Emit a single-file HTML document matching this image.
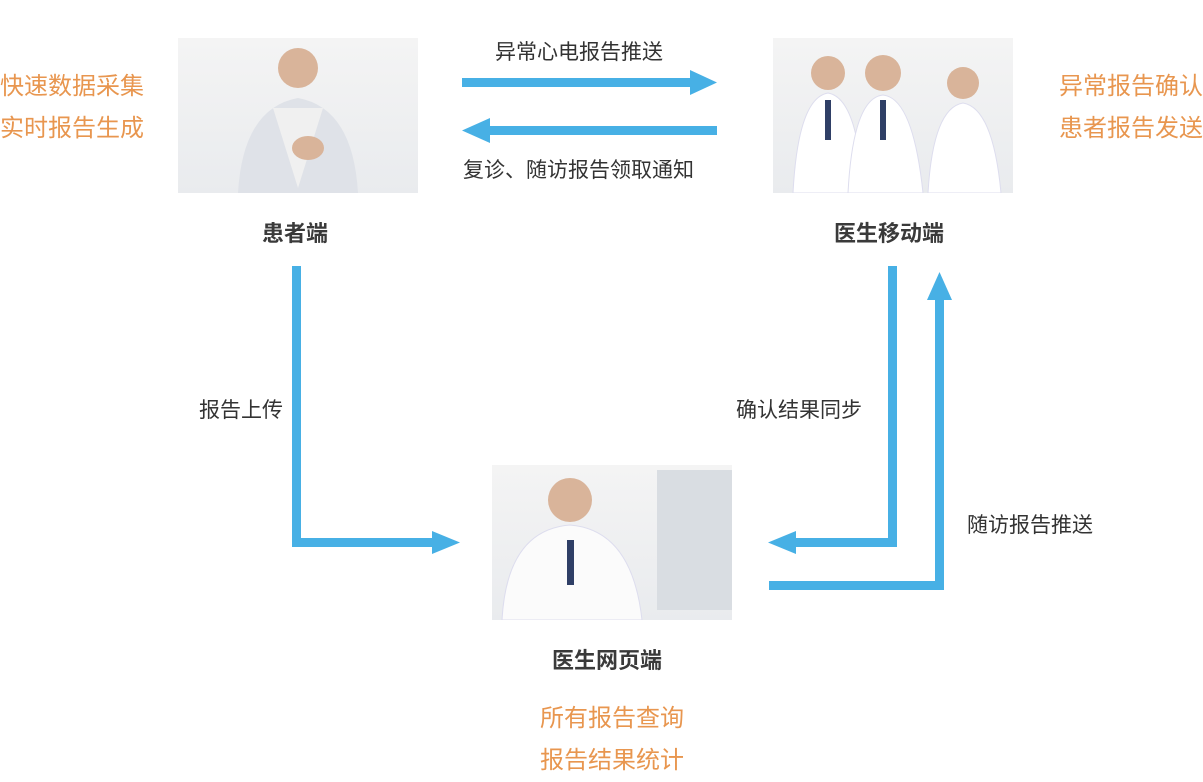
<!DOCTYPE html>
<html><head><meta charset="utf-8"><style>
body{margin:0;width:1203px;height:771px;background:#fff;position:relative;overflow:hidden;font-family:"Liberation Sans","Noto Sans CJK SC",sans-serif}
.t{position:absolute;white-space:nowrap;color:#333}
.o{color:#e8964f;font-size:24px;line-height:42px}
.n{font-size:22px;font-weight:bold;color:#3a3a3a}
.img{position:absolute;width:240px;height:155px;background:linear-gradient(#f4f4f4,#e9ebee)}
</style></head><body>
<div class="img" style="left:178px;top:38px">
<svg width="240" height="155"><circle cx="120" cy="30" r="20" fill="#d9b49a"/><path d="M60 155 Q65 70 120 60 Q175 70 180 155Z" fill="#dfe2e8"/><path d="M95 70 L120 150 L145 70Z" fill="#f0f0f0"/><ellipse cx="130" cy="110" rx="16" ry="12" fill="#d9b49a"/></svg></div>
<div class="img" style="left:773px;top:38px">
<svg width="240" height="155"><circle cx="55" cy="35" r="17" fill="#d9b49a"/><circle cx="110" cy="35" r="18" fill="#d9b49a"/><circle cx="190" cy="45" r="16" fill="#d9b49a"/><path d="M20 155 Q25 60 55 55 Q85 60 90 155Z" fill="#fff" stroke="#dde"/><path d="M75 155 Q80 60 110 57 Q140 60 150 155Z" fill="#fff" stroke="#dde"/><path d="M155 155 Q160 70 190 65 Q220 70 228 155Z" fill="#fff" stroke="#dde"/><rect x="52" y="62" width="6" height="40" fill="#2f3f66"/><rect x="107" y="62" width="6" height="40" fill="#2f3f66"/></svg></div>
<div class="img" style="left:492px;top:465px">
<svg width="240" height="155"><rect x="165" y="5" width="75" height="140" fill="#d9dde2"/><circle cx="78" cy="35" r="22" fill="#d9b49a"/><path d="M10 155 Q15 65 78 60 Q140 65 150 155Z" fill="#fbfbfb" stroke="#dde"/><rect x="75" y="75" width="7" height="45" fill="#2f3f66"/></svg></div>

<div class="t n" style="left:262px;top:216px">患者端</div>
<div class="t n" style="left:834px;top:216px">医生移动端</div>
<div class="t n" style="left:552px;top:643px">医生网页端</div>

<div class="t o" style="left:0;top:66px">快速数据采集<br>实时报告生成</div>
<div class="t o" style="left:1059px;top:66px">异常报告确认<br>患者报告发送</div>
<div class="t o" style="left:540px;top:698px">所有报告查询<br>报告结果统计</div>

<div class="t" style="left:495px;top:36px;font-size:21px">异常心电报告推送</div>
<div class="t" style="left:463px;top:154px;font-size:21px">复诊、随访报告领取通知</div>
<div class="t" style="left:199px;top:394px;font-size:21px">报告上传</div>
<div class="t" style="left:736px;top:394px;font-size:21px">确认结果同步</div>
<div class="t" style="left:967px;top:509px;font-size:21px">随访报告推送</div>

<svg width="1203" height="771" style="position:absolute;left:0;top:0">
<g fill="#47b0e5">
<rect x="462" y="78" width="230" height="9"/><polygon points="690,70 717,82.5 690,95"/>
<rect x="488" y="126" width="229" height="9"/><polygon points="490,118 462,130.5 490,143"/>
<rect x="292" y="266" width="9" height="281"/><rect x="292" y="538" width="142" height="9"/><polygon points="432,531 460,542.5 432,554"/>
<rect x="888" y="266" width="9" height="281"/><rect x="793" y="538" width="104" height="9"/><polygon points="796,531 768,542.5 796,554"/>
<rect x="935" y="298" width="9" height="292"/><polygon points="927,300 939.5,272 952,300"/><rect x="769" y="581" width="175" height="9"/>
</g></svg>
</body></html>
